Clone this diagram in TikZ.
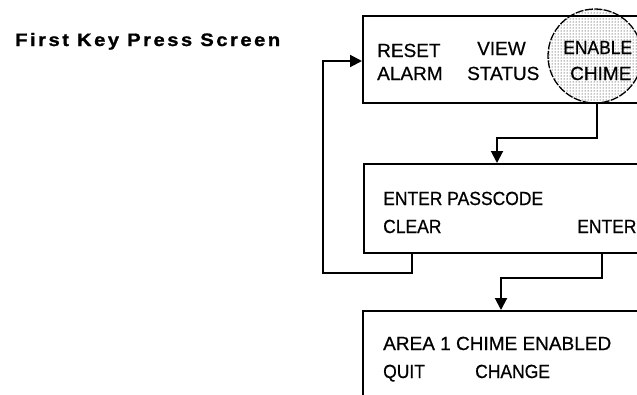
\documentclass[tikz,border=0pt]{standalone}
\usepackage{fontspec}
\setmainfont{Liberation Sans}
\newfontfamily\titlefont[FakeStretch=1.12,LetterSpace=14,FakeBold=1.2]{Liberation Sans Bold}
\newfontfamily\boxfont[FakeBold=0.6]{Liberation Sans}
\newfontfamily\narrowfont[FakeBold=0.6,FakeStretch=0.92]{Liberation Sans}
\usetikzlibrary{arrows.meta,patterns,calc}
\begin{document}
\begin{tikzpicture}[x=1pt,y=-1pt,
  screen/.style={draw, line width=1.5pt, rectangle, anchor=north west, minimum width=320pt, inner sep=0pt},
  conn/.style={line width=2pt, -{Triangle[length=12pt,width=12pt]}},
  lbl/.style={anchor=base west, inner sep=0pt, font=\boxfont\fontsize{19}{19}\selectfont},
  nlbl/.style={anchor=base west, inner sep=0pt, font=\narrowfont\fontsize{19}{19}\selectfont},
  ttl/.style={anchor=base west, inner sep=0pt, font=\titlefont\fontsize{18}{18}\selectfont},
  key/.style={circle, draw, line width=1.3pt, dash pattern=on 8pt off 1.5pt, pattern=dots, pattern color=black, minimum size=94pt, inner sep=0pt}
]
\useasboundingbox (0,0) rectangle (637,394);
\clip (0,0) rectangle (637,394);

\node[ttl] (title) at (15,46) {First Key Press Screen};

% screens
\node[screen, minimum height=87pt] (box1) at (362,15) {};
\node[screen, minimum height=89pt] (box2) at (363,163) {};
\node[screen, minimum height=120pt] (box3) at (362,310) {};

% highlighted key
\node[key] (circ) at (595,56) {};

% box 1 texts
\node[lbl] (reset) at (377,57) {RESET};
\node[lbl] (alarm) at (377,80) {ALARM};
\node[lbl] (view) at (477,55) {VIEW};
\node[lbl] (status) at (467,80) {STATUS};
\node[nlbl] (enable) at (563,54) {ENABLE};
\node[lbl] (chime) at (570,80) {CHIME};

% box 2 texts
\node[nlbl] (pass) at (383,205) {ENTER PASSCODE};
\node[nlbl] (clear) at (383,233) {CLEAR};
\node[nlbl] (enter) at (577,233) {ENTER};

% box 3 texts
\node[lbl] (area) at (383,350) {AREA 1 CHIME ENABLED};
\node[nlbl] (quit) at (383,378) {QUIT};
\node[nlbl] (change) at (475,378) {CHANGE};

% connectors
\draw[conn] ([xshift=2pt]circ.south) -- ++(0,34) -| ([xshift=134pt]box2.north west);
\draw[conn] ([xshift=49pt]box2.south west) |- (323,273) |- ([yshift=-46pt]box1.north west);
\draw[conn] ([xshift=239pt]box2.south west) |- (501,278) -- ([xshift=139pt]box3.north west);
\end{tikzpicture}
\end{document}
